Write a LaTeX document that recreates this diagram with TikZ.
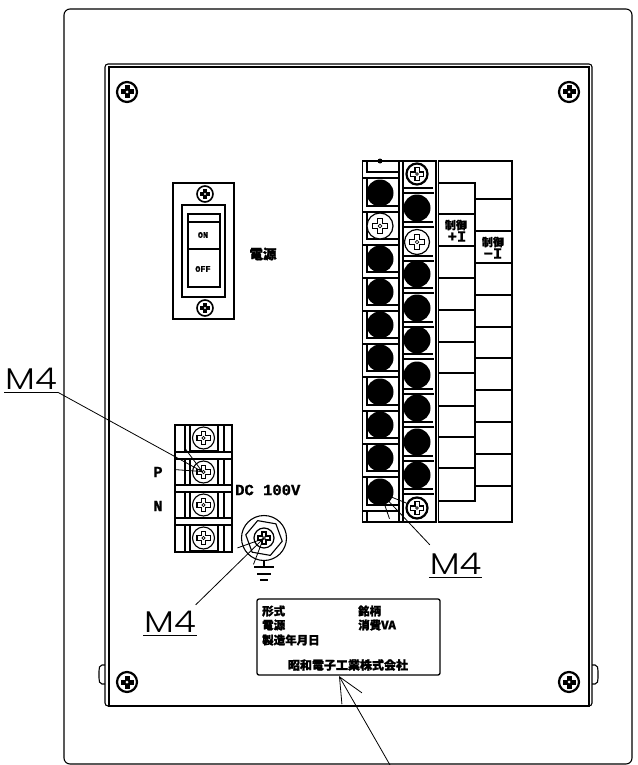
\documentclass[tikz,border=0pt]{standalone}
\usepackage{fontspec}
\usetikzlibrary{arrows.meta,calc}
\newfontfamily\cjkfont{Noto Sans CJK JP}[BoldFeatures={FakeBold=1.5}]
\newfontfamily\drawfont{Poppins Light}
\setmonofont{Liberation Mono}[BoldFeatures={FakeBold=1}]
\tikzset{
  thinline/.style={line width=1.1pt},
  thickline/.style={line width=2pt},
  leader/.style={line width=0.8pt, -{Straight Barb[length=25pt,width=23pt]}},
  leaderlabel/.style={inner sep=0pt, minimum width=53pt, text height=21pt, text depth=3pt, font=\drawfont\fontsize{30}{30}\selectfont},
  jplabel/.style={inner sep=0pt, font=\cjkfont\bfseries\fontsize{11.5}{11.5}\selectfont},
  monolabel/.style={inner sep=0pt, font=\ttfamily\bfseries\fontsize{15.5}{15.5}\selectfont},
  smalllabel/.style={inner sep=0pt, font=\ttfamily\bfseries\fontsize{8.5}{8.5}\selectfont},
  screw/.pic={
    \draw[fill=white] (0,0) circle (10);
    \draw[fill=white, line width=1.2pt] (-2,-6) -- (2,-6) -- (2,-2) -- (6,-2) -- (6,2) -- (2,2) -- (2,6) -- (-2,6) -- (-2,2) -- (-6,2) -- (-6,-2) -- (-2,-2) -- cycle;
    \draw[fill=white, line width=0.7pt] (0,0) circle (1.4);
  },
  darkscrew/.pic={
    \draw[fill=white] (0,0) circle (10);
    \fill (-2.5,-6.5) rectangle (2.5,6.5);
    \fill (-6.5,-2.5) rectangle (6.5,2.5);
    \fill[white] (0,0) circle (1.5);
  }
}
\begin{document}
\begin{tikzpicture}[x=1pt, y=-1pt]
  \useasboundingbox (0,0) rectangle (637,765);

  % Draw cabinet and panel.
  \draw [thinline, rounded corners=6] (64,9) rectangle (632,764);
  \draw [thinline, rounded corners=3] (105,64) rectangle (592,706);
  \draw [thickline] (108.5,67) rectangle (589,706);
  \draw [thinline, rounded corners=2] (105,665) -- (100,665) -- (99,669) -- (99,680) -- (100,684) -- (105,684);
  \draw [thinline, rounded corners=2] (592,665) -- (597,665) -- (598,669) -- (598,680) -- (597,684) -- (592,684);

  % Draw corner screws.
  \foreach \x/\y in {127/92, 569/92, 127/682, 569/682}
    \pic [line width=2.2pt, scale=1] at (\x,\y) {darkscrew};

  % Draw switch.
  \draw [thinline] (173,183) rectangle (234,319);
  \draw [line width=2.2pt] (182,205) rectangle (225,297);
  \draw [thinline] (188,214) rectangle (220,287);
  \draw [thinline] (188,222) -- (220,222);
  \draw [thinline] (188,249) -- (220,249);
  \pic [line width=1.6pt, scale=0.8] at (205,194) {darkscrew};
  \pic [line width=1.6pt, scale=0.8] at (205,308) {darkscrew};
  \node [smalllabel] (onlabel) at (203,235) {ON};
  \node [smalllabel] (offlabel) at (203,269) {OFF};
  \node [jplabel, font=\cjkfont\bfseries\fontsize{13.5}{13.5}\selectfont] (powerlabel) at (263,254) {電源};

  % Draw terminal strip.
  \draw [line width=1.8pt] (362.5,161) rectangle (436,522);
  \draw [thickline] (399,161) -- (399,522);
  \draw [thinline] (403,161) -- (403,522);
  \draw [thinline] (367,161) -- (367,172) -- (398,172);
  \draw [thinline] (362,178) -- (398,178);
  \fill (380,161) circle (2.5);
  \foreach \y in {193,226,259,292,325,358,392,425,458,492} {
    \draw [thinline] (367,\y-15) -- (367,\y+13) -- (398,\y+13);
    \draw [thinline] (362,\y+19) -- (398,\y+19);
  }
  \draw [thinline] (367,511) -- (367,522);
  \foreach \y in {174,208,242,274,308,340,375,408,442,475} {
    \draw [thinline] (403,\y+14) -- (433,\y+14);
    \draw [thinline] (403,\y+19) -- (434,\y+19);
  }
  \foreach \y in {193,259,292,325,358,392,425,458,492}
    \fill (380,\y) circle (13.5);
  \foreach \y in {208,274,308,340,375,408,442,475}
    \fill (417,\y) circle (13.5);
  \pic [line width=1.2pt, scale=1.3] at (380,226) {screw};
  \pic [line width=1.2pt, scale=1.25] at (417,242) {screw};
  \pic [line width=2.2pt, scale=1.05] at (417,174) {screw};
  \pic [line width=2.2pt, scale=1.05] at (417,508) {screw};

  % Draw terminal cover.
  \draw [line width=1.4pt] (438.5,161) rectangle (512,522);
  \draw [thickline] (438,183) -- (475,183) -- (475,501) -- (438,501);
  \foreach \y in {214,246,278,310,342,373,406,437,468}
    \draw [thickline] (438,\y) -- (475,\y);
  \foreach \y in {199,231,263,295,327,358,390,422,454,486}
    \draw [thickline] (475,\y) -- (512,\y);
  \node [jplabel, font=\cjkfont\bfseries\fontsize{11}{11}\selectfont] (plusname) at (456,225) {制御};
  \node [monolabel] (pluslabel) at (457,236.5) {+I};
  \node [jplabel, font=\cjkfont\bfseries\fontsize{11}{11}\selectfont] (minusname) at (493,242) {制御};
  \node [monolabel] (minuslabel) at (493,253.5) {−I};

  % Draw power terminal.
  \draw [line width=1.8pt] (175,425) rectangle (232,552);
  \foreach \x in {185,190,218,224}
    \draw [thinline] (\x,425) -- (\x,552);
  \foreach \y/\z in {452/459, 485/492, 518/525} {
    \fill [white] (176,\y) rectangle (231,\z);
    \draw [thinline] (175,\y) -- (232,\y);
    \draw [thinline] (175,\z) -- (232,\z);
  }
  \foreach \y in {438,472,505,538} {
    \draw [line width=1.4pt] (190,\y-13) rectangle (218,\y+13);
    \pic [line width=1.1pt, scale=1.1] at (203.5,\y) {screw};
  }
  \node [monolabel] (plabel) at (158,472) {P};
  \node [monolabel] (nlabel) at (158,506) {N};
  \node [monolabel, anchor=west] (dclabel) at (235,490) {DC 100V};

  % Draw earth terminal.
  \draw [thinline] (264,538) circle (22.5);
  \draw [thinline] (264,538) +(10:18.5) -- +(70:18.5) -- +(130:18.5) -- +(190:18.5) -- +(250:18.5) -- +(310:18.5) -- cycle;
  \pic [line width=1.2pt, scale=1] at (264,538) {screw};
  \draw [thinline] (264,560.5) -- (264,567);
  \draw [thickline] (254,567) -- (274,567);
  \draw [thickline] (257,573.5) -- (271,573.5);
  \draw [thickline] (260,580) -- (268,580);

  % Draw name plate.
  \node [draw, line width=1.3pt, rounded corners=2, minimum width=183pt, minimum height=76pt, inner sep=0pt] (plate) at (348.5,637) {};
  \node [jplabel, anchor=west] (typelabel) at (262,611) {形式};
  \node [jplabel, anchor=west] (brandlabel) at (358,611) {銘柄};
  \node [jplabel, anchor=west] (sourcelabel) at (262,625) {電源};
  \node [jplabel, anchor=west] (vaname) at (358,625) {消費VA};
  \node [jplabel, anchor=west] (datelabel) at (262,640) {製造年月日};
  \node [jplabel, font=\cjkfont\bfseries\fontsize{12}{12}\selectfont] (makerlabel) at (348,665) {昭和電子工業株式会社};

  % Draw leaders.
  \coordinate (psrew) at (203,472);
  \coordinate (esrew) at (264,538);
  \coordinate (tsrew) at (380,492);
  \coordinate (platetip) at (339,676);
  \coordinate (plateend) at (390,765);
  \node [leaderlabel] (mfourp) at (31,380) {\scalebox{1.18}[1]{M4}};
  \node [leaderlabel] (mfoure) at (170,623) {\scalebox{1.18}[1]{M4}};
  \node [leaderlabel] (mfourt) at (455.5,565) {\scalebox{1.18}[1]{M4}};
  \draw [thinline] (mfourp.south west) -- (mfourp.south east);
  \draw [thinline] (mfoure.south west) -- (mfoure.south east);
  \draw [thinline] (mfourt.south west) -- (mfourt.south east);
  \draw [leader] (mfourp.south east) -- (psrew);
  \draw [leader] ($(mfoure.north east)+(-1,-6)$) -- (esrew);
  \draw [leader] ($(mfourt.north west)+(1,-8)$) -- (tsrew);
  \draw [leader] (plateend) -- (platetip);
\end{tikzpicture}
\end{document}
